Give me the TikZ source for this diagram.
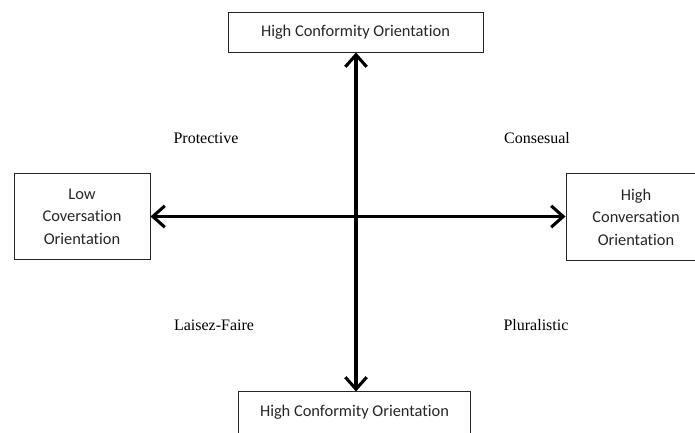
\documentclass[tikz,border=0pt]{standalone}
\usepackage{fontspec}
\setmainfont{Liberation Serif}
\newfontfamily\boxfont[Ligatures={NoCommon,NoRare}]{Carlito}
\usetikzlibrary{arrows.meta}
\begin{document}
\begin{tikzpicture}[x=0.75pt,y=-0.75pt,
  labelbox/.style={draw=black!85,line width=0.75pt,minimum width=#1,inner sep=0pt,
    font=\boxfont\fontsize{12.3}{16.8}\selectfont,align=center,text=black!85},
  axis/.style={line width=2.3pt,{Straight Barb[length=9pt,width=16pt,line width=2.3pt]}-{Straight Barb[length=9pt,width=16pt,line width=2.3pt]}},
  quad/.style={font=\fontsize{12}{14}\selectfont}]
\useasboundingbox (0,0) rectangle (695,432);
\clip (0,0) rectangle (695,432);
\node[labelbox=255*0.75pt,minimum height=30pt] (top) at (355.5,32) {High Conformity Orientation};
\node[labelbox=231*0.75pt,minimum height=30pt,draw=none] (bot) at (354.5,412) {High Conformity Orientation};
\draw[black!85,line width=0.75pt] (bot.north west) rectangle ([yshift=-10pt]bot.south east);
\node[labelbox=136*0.75pt,minimum height=64.5pt] (left) at (82,216.5) {Low\\Coversation\\Orientation};
\node[labelbox=140*0.75pt,minimum height=65pt] (right) at (636,217) {High\\Conversation\\Orientation};
\coordinate (c) at (356,216.5);
\draw[axis] (c |- top.south) -- (c |- bot.north);
\draw[axis] (left.east |- c) -- (right.west |- c);
\node[quad] (p) at (206,138) {Protective};
\node[quad] (cs) at (537,138) {Consesual};
\node[quad] (l) at (214,325) {Laisez-Faire};
\node[quad] (pl) at (536,325) {Pluralistic};
\end{tikzpicture}
\end{document}
